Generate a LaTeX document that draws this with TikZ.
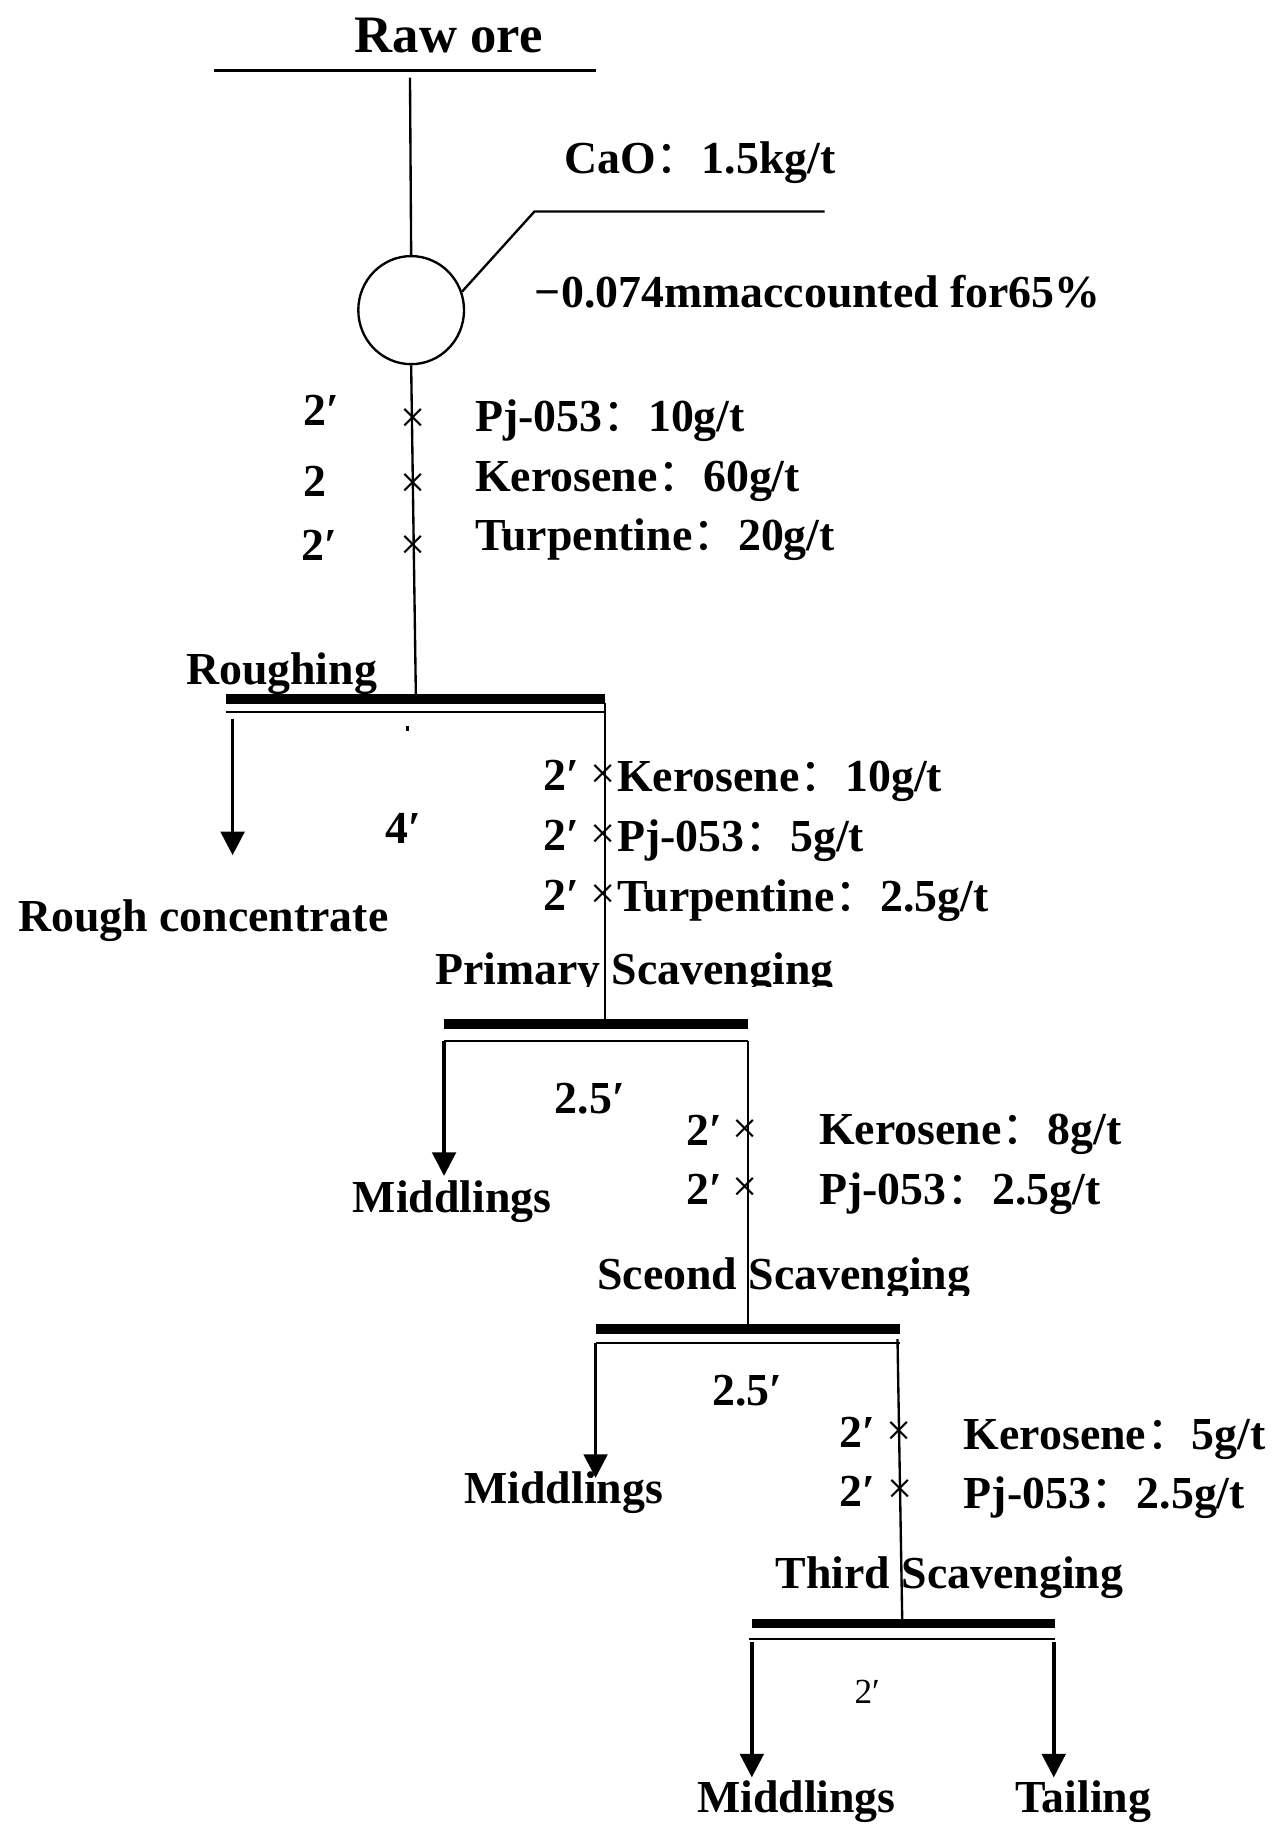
\documentclass[tikz,border=0pt]{standalone}
\usepackage{fontspec}
\setmainfont{Liberation Serif}
\newfontfamily\cjk{Noto Sans CJK SC}
\usetikzlibrary{arrows.meta,shapes.geometric}
\newcommand\fc{{\cjk\mdseries ：}}
\begin{document}
\begin{tikzpicture}[x=0.5pt,y=-0.5pt,
  lbl/.style={font=\bfseries\fontsize{19.5}{22}\selectfont, inner sep=0pt, anchor=base west},
  crs/.style={font=\fontsize{19}{22}\selectfont, inner sep=0pt, anchor=center},
  thin/.style={line width=1pt},
  bar/.style={line width=4.2pt},
  flow/.style={line width=1.5pt, -{Triangle[length=10pt,width=10pt]}}]
\useasboundingbox (0,0) rectangle (1088,1568);

% raw ore
\node[font=\bfseries\fontsize{22.4}{26}\selectfont, inner sep=0pt, anchor=base] (raw) at (382,45) {Raw ore};
\coordinate (rawL) at (182,60); \coordinate (rawR) at (507,60);
\draw[thin] (rawL) -- (rawR);
\coordinate (rawdown) at (349,66);
\node[draw, thin, ellipse, minimum width=45pt, minimum height=46pt, inner sep=0pt] (mill) at (350,264) {};
\draw[thin] (rawdown) -- (mill.north);
\coordinate (caoA) at (455,180); \coordinate (caoB) at (702,180);
\draw[thin] (mill.20) -- (caoA) -- (caoB);
\node[lbl] (cao) at (480,148) {CaO\fc 1.5kg/t};
\node[lbl] (grind) at (455,262) {−0.074mmaccounted for65\%};

% reagents to roughing
\coordinate (r1top) at (354,592);
\draw[thin] (mill.south) -- (r1top);
\node[lbl] (t1a) at (258,362) {2′};
\node[lbl] (t1b) at (258,423) {2};
\node[lbl] (t1c) at (256,477) {2′};
\node[crs] (x1a) at (352,358) {×};
\node[crs] (x1b) at (352,413) {×};
\node[crs] (x1c) at (352,466) {×};
\node[lbl] (rg1a) at (404,367) {Pj-053\fc 10g/t};
\node[lbl] (rg1b) at (404,418) {Kerosene\fc 60g/t};
\node[lbl] (rg1c) at (404,469) {Turpentine\fc 20g/t};

% roughing
\node[lbl] (rough) at (158,583) {Roughing};
\coordinate (b1L) at (192,595); \coordinate (b1R) at (515,595);
\draw[bar] (b1L) -- (b1R);
\coordinate (s1L) at (192,606); \coordinate (s1R) at (515,606);
\draw[thin] (s1L) -- (s1R);
\coordinate (a1s) at (198,612); \coordinate (a1e) at (198,728);
\draw[flow] (a1s) -- (a1e);
\coordinate (dotA) at (347,618); \coordinate (dotB) at (347,622);
\draw[line width=1.3pt] (dotA) -- (dotB);
\node[lbl] (rc) at (15,793) {Rough concentrate};
\node[lbl] (t4) at (328,718) {4′};
\coordinate (v1top) at (515,598); \coordinate (v1bot) at (515,870);
\draw[thin] (v1top) -- (v1bot);
\node[lbl] (t2a) at (462,673) {2′};
\node[lbl] (t2b) at (462,724) {2′};
\node[lbl] (t2c) at (462,775) {2′};
\node[crs] (x2a) at (513,661) {×};
\node[crs] (x2b) at (513,712) {×};
\node[crs] (x2c) at (513,763) {×};
\node[lbl] (rg2a) at (525,674) {Kerosene\fc 10g/t};
\node[lbl] (rg2b) at (525,725) {Pj-053\fc 5g/t};
\node[lbl] (rg2c) at (525,776) {Turpentine\fc 2.5g/t};

% primary scavenging
\begin{scope}
\clip (300,780) rectangle (800,840);
\node[lbl] (ps) at (370,838) {Primary Scavenging};
\end{scope}
\coordinate (b2L) at (378,872); \coordinate (b2R) at (637,872);
\draw[bar] (b2L) -- (b2R);
\coordinate (s2L) at (378,886); \coordinate (s2R) at (637,886);
\draw[thin] (s2L) -- (s2R);
\coordinate (a2s) at (378,886); \coordinate (a2e) at (378,1001);
\draw[flow] (a2s) -- (a2e);
\node[lbl] (t25a) at (472,948) {2.5′};
\coordinate (v2top) at (637,886); \coordinate (v2bot) at (637,1129);
\draw[thin] (v2top) -- (v2bot);
\node[lbl] (t3a) at (584,975) {2′};
\node[lbl] (t3b) at (584,1025) {2′};
\node[crs] (x3a) at (634,963) {×};
\node[crs] (x3b) at (634,1013) {×};
\node[lbl] (rg3a) at (697,974) {Kerosene\fc 8g/t};
\node[lbl] (rg3b) at (697,1025) {Pj-053\fc 2.5g/t};
\node[lbl] (m1) at (300,1032) {Middlings};

% second scavenging
\begin{scope}
\clip (450,1040) rectangle (900,1103);
\node[lbl] (ss) at (508,1098) {Sceond Scavenging};
\end{scope}
\coordinate (b3L) at (507,1131); \coordinate (b3R) at (766,1131);
\draw[bar] (b3L) -- (b3R);
\coordinate (s3L) at (507,1143); \coordinate (s3R) at (766,1143);
\draw[thin] (s3L) -- (s3R);
\coordinate (a3s) at (507,1143); \coordinate (a3e) at (507,1258);
\draw[flow] (a3s) -- (a3e);
\node[lbl] (t25b) at (606,1196) {2.5′};
\coordinate (v3top) at (764,1140); \coordinate (v3bot) at (768,1378);
\draw[thin] (v3top) -- (v3bot);
\node[lbl] (t5a) at (714,1232) {2′};
\node[lbl] (t5b) at (714,1282) {2′};
\node[crs] (x5a) at (765,1220) {×};
\node[crs] (x5b) at (766,1270) {×};
\node[lbl] (rg5a) at (820,1234) {Kerosene\fc 5g/t};
\node[lbl] (rg5b) at (820,1284) {Pj-053\fc 2.5g/t};
\node[lbl] (m2) at (395,1280) {Middlings};

% third scavenging
\node[lbl] (ts) at (660,1352) {Third Scavenging};
\coordinate (b4L) at (640,1382); \coordinate (b4R) at (898,1382);
\draw[bar] (b4L) -- (b4R);
\coordinate (s4L) at (638,1395); \coordinate (s4R) at (898,1395);
\draw[thin] (s4L) -- (s4R);
\coordinate (a4s) at (640,1398); \coordinate (a4e) at (640,1513);
\draw[flow] (a4s) -- (a4e);
\coordinate (a5s) at (897,1398); \coordinate (a5e) at (897,1513);
\draw[flow] (a5s) -- (a5e);
\node[font=\fontsize{15}{18}\selectfont, inner sep=0pt, anchor=base west] (t2f) at (727,1450) {2′};
\node[lbl] (m3) at (593,1543) {Middlings};
\node[lbl] (tail) at (864,1543) {Tailing};
\end{tikzpicture}
\end{document}
